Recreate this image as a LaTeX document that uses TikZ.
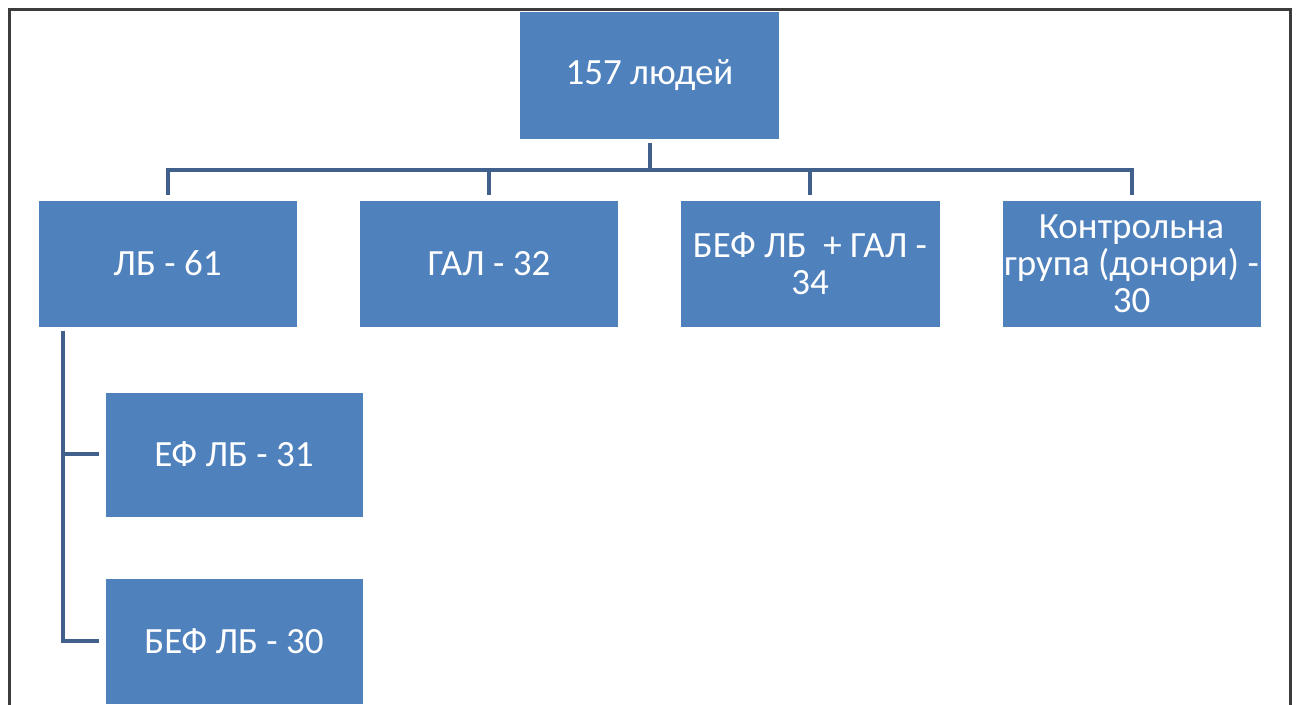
\documentclass[tikz,border=0pt]{standalone}
\usepackage{fontspec}
\setmainfont{Carlito}
\definecolor{boxblue}{RGB}{79,129,189}
\definecolor{linkblue}{RGB}{66,96,140}
\definecolor{framegray}{RGB}{60,60,60}
\begin{document}
\begin{tikzpicture}[x=0.5pt,y=-0.5pt,
  box/.style={rectangle, fill=boxblue, draw=white, line width=0.4pt, text=white,
    inner sep=0pt, align=center,
    font=\fontsize{18.5}{18.5}\selectfont},
  conn/.style={draw=linkblue, line width=2pt},
  frameline/.style={draw=framegray, line width=1.5pt}]
\useasboundingbox (0,0) rectangle (1297,705);
\clip (0,0) rectangle (1297,705);
\draw[frameline] (9,710) -- (9,9.5) -- (1290,9.5) -- (1290,710);
\node[box, minimum width=130pt, minimum height=64pt] (top) at (649.5,75) {157 людей};
\node[box, minimum width=129.5pt, minimum height=63.5pt] (b1) at (167.5,263.5) {ЛБ - 61};
\node[box, minimum width=129.5pt, minimum height=63.5pt] (b2) at (489,263.5) {ГАЛ - 32};
\node[box, minimum width=130pt, minimum height=63.5pt] (b3) at (810,263.5) {БЕФ ЛБ\ \ + ГАЛ -\\34};
\node[box, minimum width=129.5pt, minimum height=63.5pt] (b4) at (1131.5,263.5) {Контрольна\\група (донори) -\\30};
\node[box, minimum width=129pt, minimum height=62.5pt] (s1) at (234,454.5) {ЕФ ЛБ - 31};
\node[box, minimum width=129pt, minimum height=63pt] (s2) at (234,641.5) {БЕФ ЛБ - 30};
\coordinate (bus) at (649.5,170);
\coordinate (lt) at (63,331);
\draw[conn, shorten <=2pt] (top.south) -- (bus);
\draw[conn, shorten >=2.5pt] (bus) -| (b1.north);
\draw[conn, shorten >=2.5pt] (bus) -| (b2.north);
\draw[conn, shorten >=2.5pt] (bus) -| (b3.north);
\draw[conn, shorten >=2.5pt] (bus) -| (b4.north);
\draw[conn, shorten >=3pt] (lt) |- (s1.west);
\draw[conn, shorten >=3pt] (lt) |- (s2.west);
\end{tikzpicture}
\end{document}
